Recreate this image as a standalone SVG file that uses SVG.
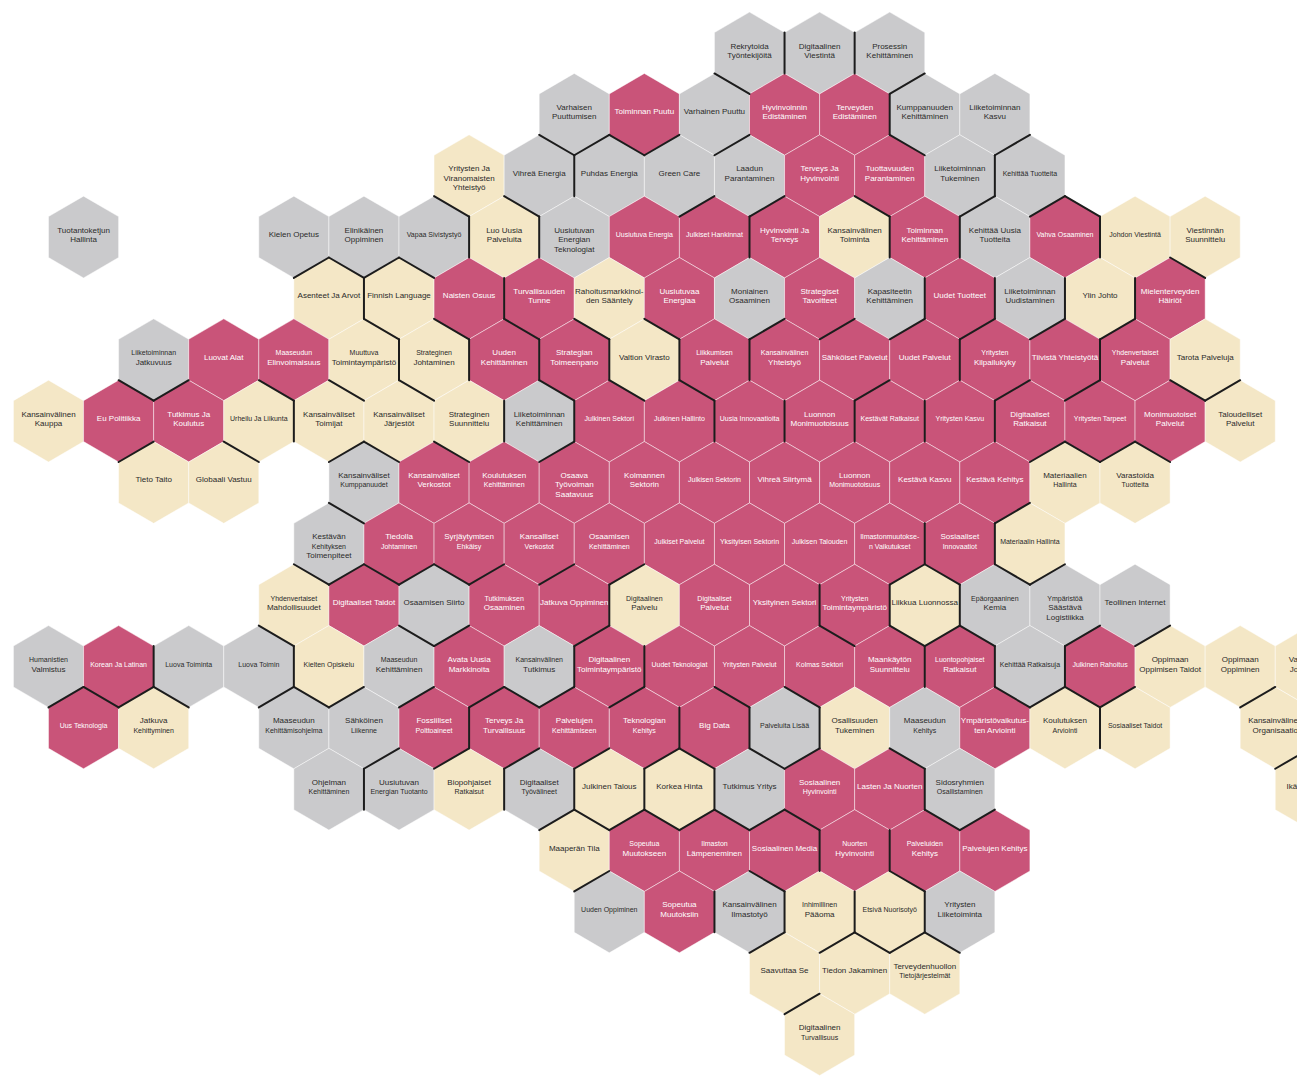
<svg xmlns="http://www.w3.org/2000/svg" xmlns:xlink="http://www.w3.org/1999/xlink" width="1297" height="1080" viewBox="0 0 1297 1080">
<style>
.p{fill:#c95479}.g{fill:#cacacc}.c{fill:#f4e7c6}
.hx{stroke:#ffffff;stroke-opacity:0.45;stroke-width:1}
text{font-family:"Liberation Sans",Arial,sans-serif;font-size:8px;text-anchor:middle;fill:#2a2a2a}
.w{fill:#ffffff}
.s{font-size:7px}
#edges use{stroke:#1c1c1c;stroke-width:2;stroke-linecap:round;fill:none}
</style>
<defs>
<polygon id="hx" points="0,-40.9 35.05,-20.45 35.05,20.45 0,40.9 -35.05,20.45 -35.05,-20.45"/>
<path id="eNE" d="M0,-40.9L35.05,-20.45"/>
<path id="eE" d="M35.05,-20.45L35.05,20.45"/>
<path id="eSE" d="M35.05,20.45L0,40.9"/>
<path id="eSW" d="M0,40.9L-35.05,20.45"/>
<path id="eW" d="M-35.05,20.45L-35.05,-20.45"/>
<path id="eNW" d="M-35.05,-20.45L0,-40.9"/>
</defs>
<rect width="1297" height="1080" fill="#ffffff"/>
<g id="nodes">
<!-- row 0 -->
<g id="n0-10" transform="translate(749.5,53)"><use href="#hx" class="hx g"/><text><tspan x="0" y="-4.5">Rekrytoida</tspan><tspan x="0" y="5">Työntekijöitä</tspan></text></g>
<g id="n0-11" transform="translate(819.6,53)"><use href="#hx" class="hx g"/><text><tspan x="0" y="-4.5">Digitaalinen</tspan><tspan x="0" y="5">Viestintä</tspan></text></g>
<g id="n0-12" transform="translate(889.7,53)"><use href="#hx" class="hx g"/><text><tspan x="0" y="-4.5">Prosessin</tspan><tspan x="0" y="5">Kehittäminen</tspan></text></g>
<!-- row 1 -->
<g id="n1-7" transform="translate(574.25,114.35)"><use href="#hx" class="hx g"/><text><tspan x="0" y="-4.5">Varhaisen</tspan><tspan x="0" y="5">Puuttumisen</tspan></text></g>
<g id="n1-8" transform="translate(644.35,114.35)"><use href="#hx" class="hx p"/><text class="w" y="0">Toiminnan Puutu</text></g>
<g id="n1-9" transform="translate(714.45,114.35)"><use href="#hx" class="hx g"/><text y="0">Varhainen Puuttu</text></g>
<g id="n1-10" transform="translate(784.55,114.35)"><use href="#hx" class="hx p"/><text class="w"><tspan x="0" y="-4.5">Hyvinvoinnin</tspan><tspan x="0" y="5">Edistäminen</tspan></text></g>
<g id="n1-11" transform="translate(854.65,114.35)"><use href="#hx" class="hx p"/><text class="w"><tspan x="0" y="-4.5">Terveyden</tspan><tspan x="0" y="5">Edistäminen</tspan></text></g>
<g id="n1-12" transform="translate(924.75,114.35)"><use href="#hx" class="hx g"/><text><tspan x="0" y="-4.5">Kumppanuuden</tspan><tspan x="0" y="5">Kehittäminen</tspan></text></g>
<g id="n1-13" transform="translate(994.85,114.35)"><use href="#hx" class="hx g"/><text><tspan x="0" y="-4.5">Liiketoiminnan</tspan><tspan x="0" y="5">Kasvu</tspan></text></g>
<!-- row 2 -->
<g id="n2-6" transform="translate(469.1,175.7)"><use href="#hx" class="hx c"/><text><tspan x="0" y="-4.5">Yritysten Ja</tspan><tspan x="0" y="5">Viranomaisten</tspan><tspan x="0" y="14.5">Yhteistyö</tspan></text></g>
<g id="n2-7" transform="translate(539.2,175.7)"><use href="#hx" class="hx g"/><text y="0">Vihreä Energia</text></g>
<g id="n2-8" transform="translate(609.3,175.7)"><use href="#hx" class="hx g"/><text y="0">Puhdas Energia</text></g>
<g id="n2-9" transform="translate(679.4,175.7)"><use href="#hx" class="hx g"/><text y="0">Green Care</text></g>
<g id="n2-10" transform="translate(749.5,175.7)"><use href="#hx" class="hx g"/><text><tspan x="0" y="-4.5">Laadun</tspan><tspan x="0" y="5">Parantaminen</tspan></text></g>
<g id="n2-11" transform="translate(819.6,175.7)"><use href="#hx" class="hx p"/><text class="w"><tspan x="0" y="-4.5">Terveys Ja</tspan><tspan x="0" y="5">Hyvinvointi</tspan></text></g>
<g id="n2-12" transform="translate(889.7,175.7)"><use href="#hx" class="hx p"/><text class="w"><tspan x="0" y="-4.5">Tuottavuuden</tspan><tspan x="0" y="5">Parantaminen</tspan></text></g>
<g id="n2-13" transform="translate(959.8,175.7)"><use href="#hx" class="hx g"/><text><tspan x="0" y="-4.5">Liiketoiminnan</tspan><tspan x="0" y="5">Tukeminen</tspan></text></g>
<g id="n2-14" transform="translate(1029.9,175.7)"><use href="#hx" class="hx g"/><text class="s" y="0">Kehittää Tuotteita</text></g>
<!-- row 3 -->
<g id="n3-0" transform="translate(83.55,237.05)"><use href="#hx" class="hx g"/><text><tspan x="0" y="-4.5">Tuotantoketjun</tspan><tspan x="0" y="5">Hallinta</tspan></text></g>
<g id="n3-3" transform="translate(293.85,237.05)"><use href="#hx" class="hx g"/><text y="0">Kielen Opetus</text></g>
<g id="n3-4" transform="translate(363.95,237.05)"><use href="#hx" class="hx g"/><text><tspan x="0" y="-4.5">Elinikäinen</tspan><tspan x="0" y="5">Oppiminen</tspan></text></g>
<g id="n3-5" transform="translate(434.05,237.05)"><use href="#hx" class="hx g"/><text class="s" y="0">Vapaa Sivistystyö</text></g>
<g id="n3-6" transform="translate(504.15,237.05)"><use href="#hx" class="hx c"/><text><tspan x="0" y="-4.5">Luo Uusia</tspan><tspan x="0" y="5">Palveluita</tspan></text></g>
<g id="n3-7" transform="translate(574.25,237.05)"><use href="#hx" class="hx g"/><text><tspan x="0" y="-4.5">Uusiutuvan</tspan><tspan x="0" y="5">Energian</tspan><tspan x="0" y="14.5">Teknologiat</tspan></text></g>
<g id="n3-8" transform="translate(644.35,237.05)"><use href="#hx" class="hx p"/><text class="w s" y="0">Uusiutuva Energia</text></g>
<g id="n3-9" transform="translate(714.45,237.05)"><use href="#hx" class="hx p"/><text class="w s" y="0">Julkiset Hankinnat</text></g>
<g id="n3-10" transform="translate(784.55,237.05)"><use href="#hx" class="hx p"/><text class="w"><tspan x="0" y="-4.5">Hyvinvointi Ja</tspan><tspan x="0" y="5">Terveys</tspan></text></g>
<g id="n3-11" transform="translate(854.65,237.05)"><use href="#hx" class="hx c"/><text><tspan x="0" y="-4.5">Kansainvälinen</tspan><tspan x="0" y="5">Toiminta</tspan></text></g>
<g id="n3-12" transform="translate(924.75,237.05)"><use href="#hx" class="hx p"/><text class="w"><tspan x="0" y="-4.5">Toiminnan</tspan><tspan x="0" y="5">Kehittäminen</tspan></text></g>
<g id="n3-13" transform="translate(994.85,237.05)"><use href="#hx" class="hx g"/><text><tspan x="0" y="-4.5">Kehittää Uusia</tspan><tspan x="0" y="5">Tuotteita</tspan></text></g>
<g id="n3-14" transform="translate(1064.95,237.05)"><use href="#hx" class="hx p"/><text class="w s" y="0">Vahva Osaaminen</text></g>
<g id="n3-15" transform="translate(1135.05,237.05)"><use href="#hx" class="hx c"/><text class="s" y="0">Johdon Viestintä</text></g>
<g id="n3-16" transform="translate(1205.15,237.05)"><use href="#hx" class="hx c"/><text><tspan x="0" y="-4.5">Viestinnän</tspan><tspan x="0" y="5">Suunnittelu</tspan></text></g>
<!-- row 4 -->
<g id="n4-4" transform="translate(328.9,298.4)"><use href="#hx" class="hx c"/><text y="0">Asenteet Ja Arvot</text></g>
<g id="n4-5" transform="translate(399,298.4)"><use href="#hx" class="hx c"/><text y="0">Finnish Language</text></g>
<g id="n4-6" transform="translate(469.1,298.4)"><use href="#hx" class="hx p"/><text class="w" y="0">Naisten Osuus</text></g>
<g id="n4-7" transform="translate(539.2,298.4)"><use href="#hx" class="hx p"/><text class="w"><tspan x="0" y="-4.5">Turvallisuuden</tspan><tspan x="0" y="5">Tunne</tspan></text></g>
<g id="n4-8" transform="translate(609.3,298.4)"><use href="#hx" class="hx c"/><text><tspan x="0" y="-4.5">Rahoitusmarkkinoi-</tspan><tspan x="0" y="5">den Sääntely</tspan></text></g>
<g id="n4-9" transform="translate(679.4,298.4)"><use href="#hx" class="hx p"/><text class="w"><tspan x="0" y="-4.5">Uusiutuvaa</tspan><tspan x="0" y="5">Energiaa</tspan></text></g>
<g id="n4-10" transform="translate(749.5,298.4)"><use href="#hx" class="hx g"/><text><tspan x="0" y="-4.5">Moniainen</tspan><tspan x="0" y="5">Osaaminen</tspan></text></g>
<g id="n4-11" transform="translate(819.6,298.4)"><use href="#hx" class="hx p"/><text class="w"><tspan x="0" y="-4.5">Strategiset</tspan><tspan x="0" y="5">Tavoitteet</tspan></text></g>
<g id="n4-12" transform="translate(889.7,298.4)"><use href="#hx" class="hx g"/><text><tspan x="0" y="-4.5">Kapasiteetin</tspan><tspan x="0" y="5">Kehittäminen</tspan></text></g>
<g id="n4-13" transform="translate(959.8,298.4)"><use href="#hx" class="hx p"/><text class="w" y="0">Uudet Tuotteet</text></g>
<g id="n4-14" transform="translate(1029.9,298.4)"><use href="#hx" class="hx g"/><text><tspan x="0" y="-4.5">Liiketoiminnan</tspan><tspan x="0" y="5">Uudistaminen</tspan></text></g>
<g id="n4-15" transform="translate(1100,298.4)"><use href="#hx" class="hx c"/><text y="0">Ylin Johto</text></g>
<g id="n4-16" transform="translate(1170.1,298.4)"><use href="#hx" class="hx p"/><text class="w"><tspan x="0" y="-4.5">Mielenterveyden</tspan><tspan x="0" y="5">Häiriöt</tspan></text></g>
<!-- row 5 -->
<g id="n5-1" transform="translate(153.65,359.75)"><use href="#hx" class="hx g"/><text><tspan x="0" y="-4.5" class="s">Liiketoiminnan</tspan><tspan x="0" y="5">Jatkuvuus</tspan></text></g>
<g id="n5-2" transform="translate(223.75,359.75)"><use href="#hx" class="hx p"/><text class="w" y="0">Luovat Alat</text></g>
<g id="n5-3" transform="translate(293.85,359.75)"><use href="#hx" class="hx p"/><text class="w"><tspan x="0" y="-4.5" class="s">Maaseudun</tspan><tspan x="0" y="5">Elinvoimaisuus</tspan></text></g>
<g id="n5-4" transform="translate(363.95,359.75)"><use href="#hx" class="hx c"/><text><tspan x="0" y="-4.5" class="s">Muuttuva</tspan><tspan x="0" y="5">Toimintaympäristö</tspan></text></g>
<g id="n5-5" transform="translate(434.05,359.75)"><use href="#hx" class="hx c"/><text><tspan x="0" y="-4.5" class="s">Strateginen</tspan><tspan x="0" y="5">Johtaminen</tspan></text></g>
<g id="n5-6" transform="translate(504.15,359.75)"><use href="#hx" class="hx p"/><text class="w"><tspan x="0" y="-4.5">Uuden</tspan><tspan x="0" y="5">Kehittäminen</tspan></text></g>
<g id="n5-7" transform="translate(574.25,359.75)"><use href="#hx" class="hx p"/><text class="w"><tspan x="0" y="-4.5">Strategian</tspan><tspan x="0" y="5">Toimeenpano</tspan></text></g>
<g id="n5-8" transform="translate(644.35,359.75)"><use href="#hx" class="hx c"/><text y="0">Valtion Virasto</text></g>
<g id="n5-9" transform="translate(714.45,359.75)"><use href="#hx" class="hx p"/><text class="w"><tspan x="0" y="-4.5" class="s">Liikkumisen</tspan><tspan x="0" y="5">Palvelut</tspan></text></g>
<g id="n5-10" transform="translate(784.55,359.75)"><use href="#hx" class="hx p"/><text class="w"><tspan x="0" y="-4.5" class="s">Kansainvälinen</tspan><tspan x="0" y="5">Yhteistyö</tspan></text></g>
<g id="n5-11" transform="translate(854.65,359.75)"><use href="#hx" class="hx p"/><text class="w" y="0">Sähköiset Palvelut</text></g>
<g id="n5-12" transform="translate(924.75,359.75)"><use href="#hx" class="hx p"/><text class="w" y="0">Uudet Palvelut</text></g>
<g id="n5-13" transform="translate(994.85,359.75)"><use href="#hx" class="hx p"/><text class="w"><tspan x="0" y="-4.5" class="s">Yritysten</tspan><tspan x="0" y="5">Kilpailukyky</tspan></text></g>
<g id="n5-14" transform="translate(1064.95,359.75)"><use href="#hx" class="hx p"/><text class="w" y="0">Tiivistä Yhteistyötä</text></g>
<g id="n5-15" transform="translate(1135.05,359.75)"><use href="#hx" class="hx p"/><text class="w"><tspan x="0" y="-4.5" class="s">Yhdenvertaiset</tspan><tspan x="0" y="5">Palvelut</tspan></text></g>
<g id="n5-16" transform="translate(1205.15,359.75)"><use href="#hx" class="hx c"/><text y="0">Tarota Palveluja</text></g>
<!-- row 6 -->
<g id="n6-0" transform="translate(48.5,421.1)"><use href="#hx" class="hx c"/><text><tspan x="0" y="-4.5">Kansainvälinen</tspan><tspan x="0" y="5">Kauppa</tspan></text></g>
<g id="n6-1" transform="translate(118.6,421.1)"><use href="#hx" class="hx p"/><text class="w" y="0">Eu Politiikka</text></g>
<g id="n6-2" transform="translate(188.7,421.1)"><use href="#hx" class="hx p"/><text class="w"><tspan x="0" y="-4.5">Tutkimus Ja</tspan><tspan x="0" y="5">Koulutus</tspan></text></g>
<g id="n6-3" transform="translate(258.8,421.1)"><use href="#hx" class="hx c"/><text class="s" y="0">Urheilu Ja Liikunta</text></g>
<g id="n6-4" transform="translate(328.9,421.1)"><use href="#hx" class="hx c"/><text><tspan x="0" y="-4.5">Kansainväliset</tspan><tspan x="0" y="5">Toimijat</tspan></text></g>
<g id="n6-5" transform="translate(399,421.1)"><use href="#hx" class="hx c"/><text><tspan x="0" y="-4.5">Kansainväliset</tspan><tspan x="0" y="5">Järjestöt</tspan></text></g>
<g id="n6-6" transform="translate(469.1,421.1)"><use href="#hx" class="hx c"/><text><tspan x="0" y="-4.5">Strateginen</tspan><tspan x="0" y="5">Suunnittelu</tspan></text></g>
<g id="n6-7" transform="translate(539.2,421.1)"><use href="#hx" class="hx g"/><text><tspan x="0" y="-4.5">Liiketoiminnan</tspan><tspan x="0" y="5">Kehittäminen</tspan></text></g>
<g id="n6-8" transform="translate(609.3,421.1)"><use href="#hx" class="hx p"/><text class="w s" y="0">Julkinen Sektori</text></g>
<g id="n6-9" transform="translate(679.4,421.1)"><use href="#hx" class="hx p"/><text class="w s" y="0">Julkinen Hallinto</text></g>
<g id="n6-10" transform="translate(749.5,421.1)"><use href="#hx" class="hx p"/><text class="w s" y="0">Uusia Innovaatioita</text></g>
<g id="n6-11" transform="translate(819.6,421.1)"><use href="#hx" class="hx p"/><text class="w"><tspan x="0" y="-4.5">Luonnon</tspan><tspan x="0" y="5">Monimuotoisuus</tspan></text></g>
<g id="n6-12" transform="translate(889.7,421.1)"><use href="#hx" class="hx p"/><text class="w s" y="0">Kestävät Ratkaisut</text></g>
<g id="n6-13" transform="translate(959.8,421.1)"><use href="#hx" class="hx p"/><text class="w s" y="0">Yritysten Kasvu</text></g>
<g id="n6-14" transform="translate(1029.9,421.1)"><use href="#hx" class="hx p"/><text class="w"><tspan x="0" y="-4.5">Digitaaliset</tspan><tspan x="0" y="5">Ratkaisut</tspan></text></g>
<g id="n6-15" transform="translate(1100,421.1)"><use href="#hx" class="hx p"/><text class="w s" y="0">Yritysten Tarpeet</text></g>
<g id="n6-16" transform="translate(1170.1,421.1)"><use href="#hx" class="hx p"/><text class="w"><tspan x="0" y="-4.5">Monimuotoiset</tspan><tspan x="0" y="5">Palvelut</tspan></text></g>
<g id="n6-17" transform="translate(1240.2,421.1)"><use href="#hx" class="hx c"/><text><tspan x="0" y="-4.5">Taloudelliset</tspan><tspan x="0" y="5">Palvelut</tspan></text></g>
<!-- row 7 -->
<g id="n7-1" transform="translate(153.65,482.45)"><use href="#hx" class="hx c"/><text y="0">Tieto Taito</text></g>
<g id="n7-2" transform="translate(223.75,482.45)"><use href="#hx" class="hx c"/><text y="0">Globaali Vastuu</text></g>
<g id="n7-4" transform="translate(363.95,482.45)"><use href="#hx" class="hx g"/><text><tspan x="0" y="-4.5">Kansainväliset</tspan><tspan x="0" y="5" class="s">Kumppanuudet</tspan></text></g>
<g id="n7-5" transform="translate(434.05,482.45)"><use href="#hx" class="hx p"/><text class="w"><tspan x="0" y="-4.5">Kansainväliset</tspan><tspan x="0" y="5">Verkostot</tspan></text></g>
<g id="n7-6" transform="translate(504.15,482.45)"><use href="#hx" class="hx p"/><text class="w"><tspan x="0" y="-4.5">Koulutuksen</tspan><tspan x="0" y="5" class="s">Kehittäminen</tspan></text></g>
<g id="n7-7" transform="translate(574.25,482.45)"><use href="#hx" class="hx p"/><text class="w"><tspan x="0" y="-4.5">Osaava</tspan><tspan x="0" y="5">Työvoiman</tspan><tspan x="0" y="14.5">Saatavuus</tspan></text></g>
<g id="n7-8" transform="translate(644.35,482.45)"><use href="#hx" class="hx p"/><text class="w"><tspan x="0" y="-4.5">Kolmannen</tspan><tspan x="0" y="5">Sektorin</tspan></text></g>
<g id="n7-9" transform="translate(714.45,482.45)"><use href="#hx" class="hx p"/><text class="w s" y="0">Julkisen Sektorin</text></g>
<g id="n7-10" transform="translate(784.55,482.45)"><use href="#hx" class="hx p"/><text class="w" y="0">Vihreä Siirtymä</text></g>
<g id="n7-11" transform="translate(854.65,482.45)"><use href="#hx" class="hx p"/><text class="w"><tspan x="0" y="-4.5">Luonnon</tspan><tspan x="0" y="5" class="s">Monimuotoisuus</tspan></text></g>
<g id="n7-12" transform="translate(924.75,482.45)"><use href="#hx" class="hx p"/><text class="w" y="0">Kestävä Kasvu</text></g>
<g id="n7-13" transform="translate(994.85,482.45)"><use href="#hx" class="hx p"/><text class="w" y="0">Kestävä Kehitys</text></g>
<g id="n7-14" transform="translate(1064.95,482.45)"><use href="#hx" class="hx c"/><text><tspan x="0" y="-4.5">Materiaalien</tspan><tspan x="0" y="5" class="s">Hallinta</tspan></text></g>
<g id="n7-15" transform="translate(1135.05,482.45)"><use href="#hx" class="hx c"/><text><tspan x="0" y="-4.5">Varastoida</tspan><tspan x="0" y="5" class="s">Tuotteita</tspan></text></g>
<!-- row 8 -->
<g id="n8-4" transform="translate(328.9,543.8)"><use href="#hx" class="hx g"/><text><tspan x="0" y="-4.5">Kestävän</tspan><tspan x="0" y="5" class="s">Kehityksen</tspan><tspan x="0" y="14.5">Toimenpiteet</tspan></text></g>
<g id="n8-5" transform="translate(399,543.8)"><use href="#hx" class="hx p"/><text class="w"><tspan x="0" y="-4.5">Tiedolla</tspan><tspan x="0" y="5" class="s">Johtaminen</tspan></text></g>
<g id="n8-6" transform="translate(469.1,543.8)"><use href="#hx" class="hx p"/><text class="w"><tspan x="0" y="-4.5">Syrjäytymisen</tspan><tspan x="0" y="5" class="s">Ehkäisy</tspan></text></g>
<g id="n8-7" transform="translate(539.2,543.8)"><use href="#hx" class="hx p"/><text class="w"><tspan x="0" y="-4.5">Kansalliset</tspan><tspan x="0" y="5" class="s">Verkostot</tspan></text></g>
<g id="n8-8" transform="translate(609.3,543.8)"><use href="#hx" class="hx p"/><text class="w"><tspan x="0" y="-4.5">Osaamisen</tspan><tspan x="0" y="5" class="s">Kehittäminen</tspan></text></g>
<g id="n8-9" transform="translate(679.4,543.8)"><use href="#hx" class="hx p"/><text class="w s" y="0">Julkiset Palvelut</text></g>
<g id="n8-10" transform="translate(749.5,543.8)"><use href="#hx" class="hx p"/><text class="w s" y="0">Yksityisen Sektorin</text></g>
<g id="n8-11" transform="translate(819.6,543.8)"><use href="#hx" class="hx p"/><text class="w s" y="0">Julkisen Talouden</text></g>
<g id="n8-12" transform="translate(889.7,543.8)"><use href="#hx" class="hx p"/><text class="w s"><tspan x="0" y="-4.5">Ilmastonmuutokse-</tspan><tspan x="0" y="5">n Vaikutukset</tspan></text></g>
<g id="n8-13" transform="translate(959.8,543.8)"><use href="#hx" class="hx p"/><text class="w"><tspan x="0" y="-4.5">Sosiaaliset</tspan><tspan x="0" y="5" class="s">Innovaatiot</tspan></text></g>
<g id="n8-14" transform="translate(1029.9,543.8)"><use href="#hx" class="hx c"/><text class="s" y="0">Materiaalin Hallinta</text></g>
<!-- row 9 -->
<g id="n9-3" transform="translate(293.85,605.15)"><use href="#hx" class="hx c"/><text><tspan x="0" y="-4.5" class="s">Yhdenvertaiset</tspan><tspan x="0" y="5">Mahdollisuudet</tspan></text></g>
<g id="n9-4" transform="translate(363.95,605.15)"><use href="#hx" class="hx p"/><text class="w" y="0">Digitaaliset Taidot</text></g>
<g id="n9-5" transform="translate(434.05,605.15)"><use href="#hx" class="hx g"/><text y="0">Osaamisen Siirto</text></g>
<g id="n9-6" transform="translate(504.15,605.15)"><use href="#hx" class="hx p"/><text class="w"><tspan x="0" y="-4.5" class="s">Tutkimuksen</tspan><tspan x="0" y="5">Osaaminen</tspan></text></g>
<g id="n9-7" transform="translate(574.25,605.15)"><use href="#hx" class="hx p"/><text class="w" y="0">Jatkuva Oppiminen</text></g>
<g id="n9-8" transform="translate(644.35,605.15)"><use href="#hx" class="hx c"/><text><tspan x="0" y="-4.5" class="s">Digitaalinen</tspan><tspan x="0" y="5">Palvelu</tspan></text></g>
<g id="n9-9" transform="translate(714.45,605.15)"><use href="#hx" class="hx p"/><text class="w"><tspan x="0" y="-4.5" class="s">Digitaaliset</tspan><tspan x="0" y="5">Palvelut</tspan></text></g>
<g id="n9-10" transform="translate(784.55,605.15)"><use href="#hx" class="hx p"/><text class="w" y="0">Yksityinen Sektori</text></g>
<g id="n9-11" transform="translate(854.65,605.15)"><use href="#hx" class="hx p"/><text class="w"><tspan x="0" y="-4.5" class="s">Yritysten</tspan><tspan x="0" y="5">Toimintaympäristö</tspan></text></g>
<g id="n9-12" transform="translate(924.75,605.15)"><use href="#hx" class="hx c"/><text y="0">Liikkua Luonnossa</text></g>
<g id="n9-13" transform="translate(994.85,605.15)"><use href="#hx" class="hx g"/><text><tspan x="0" y="-4.5" class="s">Epäorgaaninen</tspan><tspan x="0" y="5">Kemia</tspan></text></g>
<g id="n9-14" transform="translate(1064.95,605.15)"><use href="#hx" class="hx g"/><text><tspan x="0" y="-4.5" class="s">Ympäristöä</tspan><tspan x="0" y="5">Säästävä</tspan><tspan x="0" y="14.5">Logistiikka</tspan></text></g>
<g id="n9-15" transform="translate(1135.05,605.15)"><use href="#hx" class="hx g"/><text y="0">Teollinen Internet</text></g>
<!-- row 10 -->
<g id="n10-0" transform="translate(48.5,666.5)"><use href="#hx" class="hx g"/><text><tspan x="0" y="-4.5" class="s">Humanistien</tspan><tspan x="0" y="5">Valmistus</tspan></text></g>
<g id="n10-1" transform="translate(118.6,666.5)"><use href="#hx" class="hx p"/><text class="w s" y="0">Korean Ja Latinan</text></g>
<g id="n10-2" transform="translate(188.7,666.5)"><use href="#hx" class="hx g"/><text class="s" y="0">Luova Toiminta</text></g>
<g id="n10-3" transform="translate(258.8,666.5)"><use href="#hx" class="hx g"/><text class="s" y="0">Luova Toimin</text></g>
<g id="n10-4" transform="translate(328.9,666.5)"><use href="#hx" class="hx c"/><text class="s" y="0">Kielten Opiskelu</text></g>
<g id="n10-5" transform="translate(399,666.5)"><use href="#hx" class="hx g"/><text><tspan x="0" y="-4.5" class="s">Maaseudun</tspan><tspan x="0" y="5">Kehittäminen</tspan></text></g>
<g id="n10-6" transform="translate(469.1,666.5)"><use href="#hx" class="hx p"/><text class="w"><tspan x="0" y="-4.5">Avata Uusia</tspan><tspan x="0" y="5">Markkinoita</tspan></text></g>
<g id="n10-7" transform="translate(539.2,666.5)"><use href="#hx" class="hx g"/><text><tspan x="0" y="-4.5" class="s">Kansainvälinen</tspan><tspan x="0" y="5">Tutkimus</tspan></text></g>
<g id="n10-8" transform="translate(609.3,666.5)"><use href="#hx" class="hx p"/><text class="w"><tspan x="0" y="-4.5">Digitaalinen</tspan><tspan x="0" y="5">Toimintaympäristö</tspan></text></g>
<g id="n10-9" transform="translate(679.4,666.5)"><use href="#hx" class="hx p"/><text class="w s" y="0">Uudet Teknologiat</text></g>
<g id="n10-10" transform="translate(749.5,666.5)"><use href="#hx" class="hx p"/><text class="w s" y="0">Yritysten Palvelut</text></g>
<g id="n10-11" transform="translate(819.6,666.5)"><use href="#hx" class="hx p"/><text class="w s" y="0">Kolmas Sektori</text></g>
<g id="n10-12" transform="translate(889.7,666.5)"><use href="#hx" class="hx p"/><text class="w"><tspan x="0" y="-4.5">Maankäytön</tspan><tspan x="0" y="5">Suunnittelu</tspan></text></g>
<g id="n10-13" transform="translate(959.8,666.5)"><use href="#hx" class="hx p"/><text class="w"><tspan x="0" y="-4.5" class="s">Luontopohjaiset</tspan><tspan x="0" y="5">Ratkaisut</tspan></text></g>
<g id="n10-14" transform="translate(1029.9,666.5)"><use href="#hx" class="hx g"/><text class="s" y="0">Kehittää Ratkaisuja</text></g>
<g id="n10-15" transform="translate(1100,666.5)"><use href="#hx" class="hx p"/><text class="w s" y="0">Julkinen Rahoitus</text></g>
<g id="n10-16" transform="translate(1170.1,666.5)"><use href="#hx" class="hx c"/><text><tspan x="0" y="-4.5">Oppimaan</tspan><tspan x="0" y="5">Oppimisen Taidot</tspan></text></g>
<g id="n10-17" transform="translate(1240.2,666.5)"><use href="#hx" class="hx c"/><text><tspan x="0" y="-4.5">Oppimaan</tspan><tspan x="0" y="5">Oppiminen</tspan></text></g>
<g id="n10-18" transform="translate(1310.3,666.5)"><use href="#hx" class="hx c"/><text><tspan x="0" y="-4.5">Vastuullinen</tspan><tspan x="0" y="5">Johtaminen</tspan></text></g>
<!-- row 11 -->
<g id="n11-0" transform="translate(83.55,727.85)"><use href="#hx" class="hx p"/><text class="w s" y="0">Uus Teknologia</text></g>
<g id="n11-1" transform="translate(153.65,727.85)"><use href="#hx" class="hx c"/><text><tspan x="0" y="-4.5">Jatkuva</tspan><tspan x="0" y="5" class="s">Kehittyminen</tspan></text></g>
<g id="n11-3" transform="translate(293.85,727.85)"><use href="#hx" class="hx g"/><text><tspan x="0" y="-4.5">Maaseudun</tspan><tspan x="0" y="5" class="s">Kehittämisohjelma</tspan></text></g>
<g id="n11-4" transform="translate(363.95,727.85)"><use href="#hx" class="hx g"/><text><tspan x="0" y="-4.5">Sähköinen</tspan><tspan x="0" y="5" class="s">Liikenne</tspan></text></g>
<g id="n11-5" transform="translate(434.05,727.85)"><use href="#hx" class="hx p"/><text class="w"><tspan x="0" y="-4.5">Fossiiliset</tspan><tspan x="0" y="5" class="s">Polttoaineet</tspan></text></g>
<g id="n11-6" transform="translate(504.15,727.85)"><use href="#hx" class="hx p"/><text class="w"><tspan x="0" y="-4.5">Terveys Ja</tspan><tspan x="0" y="5">Turvallisuus</tspan></text></g>
<g id="n11-7" transform="translate(574.25,727.85)"><use href="#hx" class="hx p"/><text class="w"><tspan x="0" y="-4.5">Palvelujen</tspan><tspan x="0" y="5" class="s">Kehittämiseen</tspan></text></g>
<g id="n11-8" transform="translate(644.35,727.85)"><use href="#hx" class="hx p"/><text class="w"><tspan x="0" y="-4.5">Teknologian</tspan><tspan x="0" y="5" class="s">Kehitys</tspan></text></g>
<g id="n11-9" transform="translate(714.45,727.85)"><use href="#hx" class="hx p"/><text class="w" y="0">Big Data</text></g>
<g id="n11-10" transform="translate(784.55,727.85)"><use href="#hx" class="hx g"/><text class="s" y="0">Palveluita Lisää</text></g>
<g id="n11-11" transform="translate(854.65,727.85)"><use href="#hx" class="hx c"/><text><tspan x="0" y="-4.5">Osallisuuden</tspan><tspan x="0" y="5">Tukeminen</tspan></text></g>
<g id="n11-12" transform="translate(924.75,727.85)"><use href="#hx" class="hx g"/><text><tspan x="0" y="-4.5">Maaseudun</tspan><tspan x="0" y="5" class="s">Kehitys</tspan></text></g>
<g id="n11-13" transform="translate(994.85,727.85)"><use href="#hx" class="hx p"/><text class="w"><tspan x="0" y="-4.5">Ympäristövaikutus-</tspan><tspan x="0" y="5">ten Arviointi</tspan></text></g>
<g id="n11-14" transform="translate(1064.95,727.85)"><use href="#hx" class="hx c"/><text><tspan x="0" y="-4.5">Koulutuksen</tspan><tspan x="0" y="5" class="s">Arviointi</tspan></text></g>
<g id="n11-15" transform="translate(1135.05,727.85)"><use href="#hx" class="hx c"/><text class="s" y="0">Sosiaaliset Taidot</text></g>
<g id="n11-17" transform="translate(1275.25,727.85)"><use href="#hx" class="hx c"/><text><tspan x="0" y="-4.5">Kansainvälinen</tspan><tspan x="0" y="5">Organisaatio</tspan></text></g>
<!-- row 12 -->
<g id="n12-4" transform="translate(328.9,789.2)"><use href="#hx" class="hx g"/><text><tspan x="0" y="-4.5">Ohjelman</tspan><tspan x="0" y="5" class="s">Kehittäminen</tspan></text></g>
<g id="n12-5" transform="translate(399,789.2)"><use href="#hx" class="hx g"/><text><tspan x="0" y="-4.5">Uusiutuvan</tspan><tspan x="0" y="5" class="s">Energian Tuotanto</tspan></text></g>
<g id="n12-6" transform="translate(469.1,789.2)"><use href="#hx" class="hx c"/><text><tspan x="0" y="-4.5">Biopohjaiset</tspan><tspan x="0" y="5" class="s">Ratkaisut</tspan></text></g>
<g id="n12-7" transform="translate(539.2,789.2)"><use href="#hx" class="hx g"/><text><tspan x="0" y="-4.5">Digitaaliset</tspan><tspan x="0" y="5" class="s">Työvälineet</tspan></text></g>
<g id="n12-8" transform="translate(609.3,789.2)"><use href="#hx" class="hx c"/><text y="0">Julkinen Talous</text></g>
<g id="n12-9" transform="translate(679.4,789.2)"><use href="#hx" class="hx c"/><text y="0">Korkea Hinta</text></g>
<g id="n12-10" transform="translate(749.5,789.2)"><use href="#hx" class="hx g"/><text y="0">Tutkimus Yritys</text></g>
<g id="n12-11" transform="translate(819.6,789.2)"><use href="#hx" class="hx p"/><text class="w"><tspan x="0" y="-4.5">Sosiaalinen</tspan><tspan x="0" y="5" class="s">Hyvinvointi</tspan></text></g>
<g id="n12-12" transform="translate(889.7,789.2)"><use href="#hx" class="hx p"/><text class="w" y="0">Lasten Ja Nuorten</text></g>
<g id="n12-13" transform="translate(959.8,789.2)"><use href="#hx" class="hx g"/><text><tspan x="0" y="-4.5">Sidosryhmien</tspan><tspan x="0" y="5" class="s">Osallistaminen</tspan></text></g>
<g id="n12-18" transform="translate(1310.3,789.2)"><use href="#hx" class="hx c"/><text y="0">Ikääntyminen</text></g>
<!-- row 13 -->
<g id="n13-7" transform="translate(574.25,850.55)"><use href="#hx" class="hx c"/><text y="0">Maaperän Tila</text></g>
<g id="n13-8" transform="translate(644.35,850.55)"><use href="#hx" class="hx p"/><text class="w"><tspan x="0" y="-4.5" class="s">Sopeutua</tspan><tspan x="0" y="5">Muutokseen</tspan></text></g>
<g id="n13-9" transform="translate(714.45,850.55)"><use href="#hx" class="hx p"/><text class="w"><tspan x="0" y="-4.5" class="s">Ilmaston</tspan><tspan x="0" y="5">Lämpeneminen</tspan></text></g>
<g id="n13-10" transform="translate(784.55,850.55)"><use href="#hx" class="hx p"/><text class="w" y="0">Sosiaalinen Media</text></g>
<g id="n13-11" transform="translate(854.65,850.55)"><use href="#hx" class="hx p"/><text class="w"><tspan x="0" y="-4.5" class="s">Nuorten</tspan><tspan x="0" y="5">Hyvinvointi</tspan></text></g>
<g id="n13-12" transform="translate(924.75,850.55)"><use href="#hx" class="hx p"/><text class="w"><tspan x="0" y="-4.5" class="s">Palveluiden</tspan><tspan x="0" y="5">Kehitys</tspan></text></g>
<g id="n13-13" transform="translate(994.85,850.55)"><use href="#hx" class="hx p"/><text class="w" y="0">Palvelujen Kehitys</text></g>
<!-- row 14 -->
<g id="n14-8" transform="translate(609.3,911.9)"><use href="#hx" class="hx g"/><text class="s" y="0">Uuden Oppiminen</text></g>
<g id="n14-9" transform="translate(679.4,911.9)"><use href="#hx" class="hx p"/><text class="w"><tspan x="0" y="-4.5">Sopeutua</tspan><tspan x="0" y="5">Muutoksiin</tspan></text></g>
<g id="n14-10" transform="translate(749.5,911.9)"><use href="#hx" class="hx g"/><text><tspan x="0" y="-4.5">Kansainvälinen</tspan><tspan x="0" y="5">Ilmastotyö</tspan></text></g>
<g id="n14-11" transform="translate(819.6,911.9)"><use href="#hx" class="hx c"/><text><tspan x="0" y="-4.5" class="s">Inhimillinen</tspan><tspan x="0" y="5">Pääoma</tspan></text></g>
<g id="n14-12" transform="translate(889.7,911.9)"><use href="#hx" class="hx c"/><text class="s" y="0">Etsivä Nuorisotyö</text></g>
<g id="n14-13" transform="translate(959.8,911.9)"><use href="#hx" class="hx g"/><text><tspan x="0" y="-4.5">Yritysten</tspan><tspan x="0" y="5">Liiketoiminta</tspan></text></g>
<!-- row 15 -->
<g id="n15-10" transform="translate(784.55,973.25)"><use href="#hx" class="hx c"/><text y="0">Saavuttaa Se</text></g>
<g id="n15-11" transform="translate(854.65,973.25)"><use href="#hx" class="hx c"/><text y="0">Tiedon Jakaminen</text></g>
<g id="n15-12" transform="translate(924.75,973.25)"><use href="#hx" class="hx c"/><text><tspan x="0" y="-4.5">Terveydenhuollon</tspan><tspan x="0" y="5" class="s">Tietojärjestelmät</tspan></text></g>
<!-- row 16 -->
<g id="n16-11" transform="translate(819.6,1034.6)"><use href="#hx" class="hx c"/><text><tspan x="0" y="-4.5">Digitaalinen</tspan><tspan x="0" y="5" class="s">Turvallisuus</tspan></text></g>
</g>
<g id="edges">
<use href="#eSW" x="749.5" y="53"/><use href="#eE" x="749.5" y="53"/><use href="#eE" x="819.6" y="53"/><use href="#eSE" x="889.7" y="53"/>
<use href="#eSW" x="574.25" y="114.35"/><use href="#eSE" x="574.25" y="114.35"/><use href="#eSW" x="644.35" y="114.35"/><use href="#eSE" x="644.35" y="114.35"/><use href="#eE" x="854.65" y="114.35"/><use href="#eSW" x="924.75" y="114.35"/><use href="#eSE" x="994.85" y="114.35"/>
<use href="#eSW" x="539.2" y="175.7"/><use href="#eE" x="539.2" y="175.7"/><use href="#eNW" x="749.5" y="175.7"/><use href="#eSE" x="749.5" y="175.7"/><use href="#eE" x="959.8" y="175.7"/><use href="#eSE" x="959.8" y="175.7"/><use href="#eSE" x="1029.9" y="175.7"/>
<use href="#eNE" x="434.05" y="237.05"/><use href="#eE" x="434.05" y="237.05"/><use href="#eE" x="504.15" y="237.05"/><use href="#eNW" x="714.45" y="237.05"/><use href="#eE" x="714.45" y="237.05"/><use href="#eNE" x="854.65" y="237.05"/><use href="#eE" x="854.65" y="237.05"/><use href="#eE" x="924.75" y="237.05"/><use href="#eNE" x="1064.95" y="237.05"/><use href="#eE" x="1064.95" y="237.05"/>
<use href="#eNW" x="328.9" y="298.4"/><use href="#eNE" x="328.9" y="298.4"/><use href="#eE" x="328.9" y="298.4"/><use href="#eNW" x="399" y="298.4"/><use href="#eNE" x="399" y="298.4"/><use href="#eSW" x="399" y="298.4"/><use href="#eE" x="469.1" y="298.4"/><use href="#eSW" x="469.1" y="298.4"/><use href="#eSW" x="539.2" y="298.4"/><use href="#eSW" x="609.3" y="298.4"/><use href="#eSW" x="679.4" y="298.4"/><use href="#eSE" x="749.5" y="298.4"/><use href="#eSE" x="819.6" y="298.4"/><use href="#eE" x="889.7" y="298.4"/><use href="#eSE" x="889.7" y="298.4"/><use href="#eSE" x="959.8" y="298.4"/><use href="#eE" x="959.8" y="298.4"/><use href="#eSE" x="1029.9" y="298.4"/><use href="#eE" x="1029.9" y="298.4"/><use href="#eSE" x="1100" y="298.4"/><use href="#eE" x="1100" y="298.4"/><use href="#eNE" x="1170.1" y="298.4"/>
<use href="#eSW" x="153.65" y="359.75"/><use href="#eSE" x="153.65" y="359.75"/><use href="#eSW" x="293.85" y="359.75"/><use href="#eE" x="363.95" y="359.75"/><use href="#eSW" x="363.95" y="359.75"/><use href="#eSW" x="434.05" y="359.75"/><use href="#eE" x="434.05" y="359.75"/><use href="#eE" x="504.15" y="359.75"/><use href="#eSW" x="574.25" y="359.75"/><use href="#eE" x="574.25" y="359.75"/><use href="#eSW" x="644.35" y="359.75"/><use href="#eE" x="644.35" y="359.75"/><use href="#eSW" x="714.45" y="359.75"/><use href="#eE" x="714.45" y="359.75"/><use href="#eSE" x="854.65" y="359.75"/><use href="#eE" x="924.75" y="359.75"/><use href="#eSE" x="994.85" y="359.75"/><use href="#eE" x="1064.95" y="359.75"/><use href="#eSE" x="1064.95" y="359.75"/><use href="#eSW" x="1205.15" y="359.75"/><use href="#eSE" x="1205.15" y="359.75"/>
<use href="#eSE" x="118.6" y="421.1"/><use href="#eE" x="258.8" y="421.1"/><use href="#eSW" x="258.8" y="421.1"/><use href="#eE" x="469.1" y="421.1"/><use href="#eSW" x="469.1" y="421.1"/><use href="#eE" x="539.2" y="421.1"/><use href="#eSE" x="539.2" y="421.1"/><use href="#eE" x="679.4" y="421.1"/><use href="#eE" x="749.5" y="421.1"/><use href="#eE" x="819.6" y="421.1"/><use href="#eE" x="889.7" y="421.1"/><use href="#eE" x="959.8" y="421.1"/><use href="#eSE" x="1029.9" y="421.1"/><use href="#eSW" x="1100" y="421.1"/><use href="#eSE" x="1100" y="421.1"/><use href="#eSW" x="1170.1" y="421.1"/>
<use href="#eNW" x="363.95" y="482.45"/><use href="#eNE" x="363.95" y="482.45"/><use href="#eSW" x="363.95" y="482.45"/><use href="#eSE" x="994.85" y="482.45"/>
<use href="#eSW" x="328.9" y="543.8"/><use href="#eSE" x="328.9" y="543.8"/><use href="#eSW" x="399" y="543.8"/><use href="#eSE" x="399" y="543.8"/><use href="#eSW" x="469.1" y="543.8"/><use href="#eSE" x="469.1" y="543.8"/><use href="#eSE" x="539.2" y="543.8"/><use href="#eSE" x="609.3" y="543.8"/><use href="#eE" x="889.7" y="543.8"/><use href="#eSE" x="889.7" y="543.8"/><use href="#eSW" x="959.8" y="543.8"/><use href="#eE" x="959.8" y="543.8"/><use href="#eSW" x="1029.9" y="543.8"/><use href="#eSE" x="1029.9" y="543.8"/>
<use href="#eSW" x="293.85" y="605.15"/><use href="#eSW" x="434.05" y="605.15"/><use href="#eSE" x="434.05" y="605.15"/><use href="#eE" x="574.25" y="605.15"/><use href="#eSE" x="574.25" y="605.15"/><use href="#eE" x="784.55" y="605.15"/><use href="#eSW" x="854.65" y="605.15"/><use href="#eE" x="854.65" y="605.15"/><use href="#eSW" x="924.75" y="605.15"/><use href="#eSE" x="924.75" y="605.15"/><use href="#eE" x="924.75" y="605.15"/><use href="#eSE" x="1135.05" y="605.15"/>
<use href="#eSE" x="48.5" y="666.5"/><use href="#eSW" x="118.6" y="666.5"/><use href="#eSE" x="118.6" y="666.5"/><use href="#eE" x="118.6" y="666.5"/><use href="#eSW" x="188.7" y="666.5"/><use href="#eE" x="258.8" y="666.5"/><use href="#eSE" x="258.8" y="666.5"/><use href="#eSW" x="328.9" y="666.5"/><use href="#eSE" x="328.9" y="666.5"/><use href="#eSE" x="399" y="666.5"/><use href="#eSE" x="469.1" y="666.5"/><use href="#eSW" x="539.2" y="666.5"/><use href="#eSE" x="539.2" y="666.5"/><use href="#eE" x="539.2" y="666.5"/><use href="#eE" x="609.3" y="666.5"/><use href="#eSE" x="609.3" y="666.5"/><use href="#eSW" x="749.5" y="666.5"/><use href="#eE" x="889.7" y="666.5"/><use href="#eNE" x="959.8" y="666.5"/><use href="#eE" x="959.8" y="666.5"/><use href="#eSW" x="1029.9" y="666.5"/><use href="#eSE" x="1029.9" y="666.5"/><use href="#eE" x="1029.9" y="666.5"/><use href="#eNW" x="1100" y="666.5"/><use href="#eSW" x="1100" y="666.5"/><use href="#eSE" x="1100" y="666.5"/>
<use href="#eSE" x="363.95" y="727.85"/><use href="#eE" x="434.05" y="727.85"/><use href="#eSE" x="434.05" y="727.85"/><use href="#eSE" x="504.15" y="727.85"/><use href="#eSE" x="574.25" y="727.85"/><use href="#eE" x="644.35" y="727.85"/><use href="#eSE" x="644.35" y="727.85"/><use href="#eSW" x="714.45" y="727.85"/><use href="#eE" x="714.45" y="727.85"/><use href="#eSW" x="784.55" y="727.85"/><use href="#eSE" x="784.55" y="727.85"/><use href="#eE" x="784.55" y="727.85"/><use href="#eNE" x="784.55" y="727.85"/><use href="#eSW" x="924.75" y="727.85"/><use href="#eE" x="1064.95" y="727.85"/><use href="#eNW" x="1275.25" y="727.85"/><use href="#eSE" x="1275.25" y="727.85"/>
<use href="#eE" x="328.9" y="789.2"/><use href="#eE" x="469.1" y="789.2"/><use href="#eE" x="539.2" y="789.2"/><use href="#eE" x="609.3" y="789.2"/><use href="#eE" x="679.4" y="789.2"/><use href="#eE" x="889.7" y="789.2"/><use href="#eSW" x="959.8" y="789.2"/><use href="#eSE" x="959.8" y="789.2"/>
<use href="#eNW" x="574.25" y="850.55"/><use href="#eNE" x="574.25" y="850.55"/><use href="#eNW" x="644.35" y="850.55"/><use href="#eNE" x="644.35" y="850.55"/><use href="#eNW" x="714.45" y="850.55"/><use href="#eNE" x="714.45" y="850.55"/><use href="#eNW" x="784.55" y="850.55"/><use href="#eNE" x="784.55" y="850.55"/><use href="#eE" x="784.55" y="850.55"/><use href="#eE" x="854.65" y="850.55"/><use href="#eSW" x="924.75" y="850.55"/>
<use href="#eNW" x="609.3" y="911.9"/><use href="#eE" x="679.4" y="911.9"/><use href="#eNE" x="749.5" y="911.9"/><use href="#eE" x="749.5" y="911.9"/><use href="#eSE" x="749.5" y="911.9"/><use href="#eE" x="819.6" y="911.9"/><use href="#eSE" x="819.6" y="911.9"/><use href="#eE" x="889.7" y="911.9"/><use href="#eSW" x="889.7" y="911.9"/><use href="#eSE" x="889.7" y="911.9"/><use href="#eSW" x="959.8" y="911.9"/>
<use href="#eSE" x="784.55" y="973.25"/>
</g>
</svg>
